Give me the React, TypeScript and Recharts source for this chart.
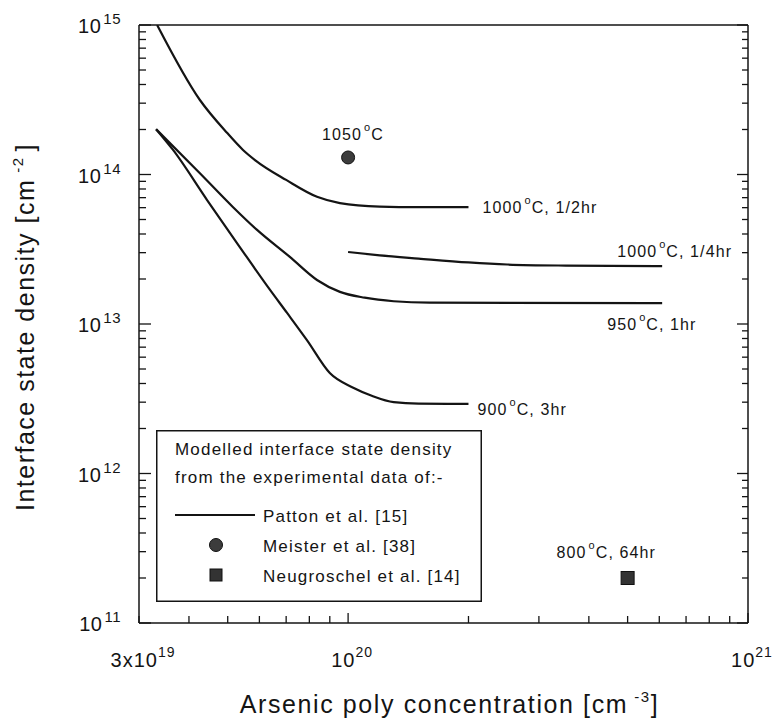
import {
  ComposedChart,
  Line,
  Scatter,
  XAxis,
  YAxis,
  ReferenceDot,
  Legend,
} from "recharts";

const FONT = "'Liberation Sans', Arial, Helvetica, sans-serif";
const INK = "#141414";

// x: arsenic poly concentration [cm^-3], y: interface state density [cm^-2]
const t1000half_x = [3.33e19, 4.26e19, 4.98e19, 5.46e19, 5.85e19, 7.0e19, 8.36e19, 9.54e19, 1.2e20, 1.5e20, 2.0e20];
const t1000half_y = [1e15, 3.15e14, 1.9e14, 1.46e14, 1.25e14, 9.2e13, 7.1e13, 6.44e13, 6.1e13, 6.05e13, 6.05e13];

const t1000quarter_x = [1.0e20, 1.2e20, 1.5e20, 2.0e20, 2.5e20, 3.5e20, 6.1e20];
const t1000quarter_y = [3.03e13, 2.88e13, 2.74e13, 2.58e13, 2.5e13, 2.46e13, 2.44e13];

const t950_x = [3.31e19, 4.26e19, 5.15e19, 5.92e19, 7.15e19, 8.36e19, 9.54e19, 1.1e20, 1.3e20, 1.6e20, 6.1e20];
const t950_y = [2.01e14, 1.02e14, 6.07e13, 4.26e13, 2.81e13, 1.97e13, 1.64e13, 1.5e13, 1.42e13, 1.39e13, 1.38e13];

const t900_x = [3.31e19, 3.65e19, 4.44e19, 5.36e19, 6.38e19, 7.03e19, 7.89e19, 9.0e19, 1.03e20, 1.15e20, 1.3e20, 1.5e20, 2.0e20];
const t900_y = [2.01e14, 1.46e14, 6.75e13, 3.27e13, 1.69e13, 1.19e13, 7.8e12, 4.7e12, 3.75e12, 3.3e12, 3.0e12, 2.93e12, 2.92e12];

const meister_x = [1.0e20];
const meister_y = [1.3e14];
const neugroschel_x = [5.0e20];
const neugroschel_y = [2.0e11];

const xTicks = [3e19, 4e19, 5e19, 6e19, 7e19, 8e19, 9e19, 1e20, 2e20, 3e20, 4e20, 5e20, 6e20, 7e20, 8e20, 9e20, 1e21];
const xLabelTicks = [3e19, 1e20, 1e21];
const xLabelBases = ["3x10", "10", "10"];
const xLabelExps = ["19", "20", "21"];

const yDecades = [1e11, 1e12, 1e13, 1e14];
const yMinorSteps = [1, 2, 3, 4, 5, 6, 7, 8, 9];
const yTicks = [...yDecades.flatMap((d) => yMinorSteps.map((m) => m * d)), 1e15];
const yLabelTicks = [1e11, 1e12, 1e13, 1e14, 1e15];
const yLabelExps = ["11", "12", "13", "14", "15"];

const legendTitle = ["Modelled interface state density", "from the experimental data of:-"];
const legendOrder = ["Patton et al. [15]", "Meister et al. [38]", "Neugroschel et al. [14]"];

const zip = (xs: number[], ys: number[]) => xs.map((x, i) => ({ x, y: ys[i] }));

const s1000half = zip(t1000half_x, t1000half_y);
const s1000quarter = zip(t1000quarter_x, t1000quarter_y);
const s950 = zip(t950_x, t950_y);
const s900 = zip(t900_x, t900_y);
const meister = zip(meister_x, meister_y);
const neugroschel = zip(neugroschel_x, neugroschel_y);

const last = (a: { x: number; y: number }[]) => a[a.length - 1];

const isDecade = (v: number) => Math.abs(Math.log10(v) - Math.round(Math.log10(v))) < 1e-9;
const findIdx = (arr: number[], v: number) => arr.findIndex((t) => Math.abs(t / v - 1) < 1e-9);

function BottomTick(props: any) {
  const { x, y, payload } = props;
  const v = payload.value;
  const len = isDecade(v) ? 10 : 7;
  const li = findIdx(xLabelTicks, v);
  return (
    <g>
      <path d={`M${x},${y}V${y - len}`} stroke={INK} strokeWidth={1.3} fill="none" />
      {li >= 0 && (
        <text x={x + 4} y={y + 44} textAnchor="middle" fontSize={20} fill={INK} fontFamily={FONT} letterSpacing={1}>
          {xLabelBases[li]}
          <tspan dy={-10} fontSize={14}>
            {xLabelExps[li]}
          </tspan>
        </text>
      )}
    </g>
  );
}

function TopTick(props: any) {
  const { x, y, payload } = props;
  const len = isDecade(payload.value) ? 12 : 7;
  return <path d={`M${x},${y}V${y + len}`} stroke={INK} strokeWidth={1.3} fill="none" />;
}

function LeftTick(props: any) {
  const { x, y, payload } = props;
  const v = payload.value;
  const len = isDecade(v) ? 12 : 7;
  const li = findIdx(yLabelTicks, v);
  return (
    <g>
      <path d={`M${x},${y}H${x + len}`} stroke={INK} strokeWidth={1.3} fill="none" />
      {li >= 0 && (
        <text x={x - 18} y={y + 8} textAnchor="end" fontSize={20} fill={INK} fontFamily={FONT} letterSpacing={0.5}>
          10
          <tspan dx={2} dy={-9} fontSize={15}>
            {yLabelExps[li]}
          </tspan>
        </text>
      )}
    </g>
  );
}

function RightTick(props: any) {
  const { x, y, payload } = props;
  const len = isDecade(payload.value) ? 11 : 6;
  return <path d={`M${x},${y}H${x - len}`} stroke={INK} strokeWidth={1.3} fill="none" />;
}

function XTitle(props: any) {
  const vb = props.viewBox;
  return (
    <text x={vb.x + vb.width / 2 + 6} y={vb.y + 90} textAnchor="middle" fontSize={25} fill={INK} fontFamily={FONT} letterSpacing={1.6}>
      Arsenic poly concentration [cm
      <tspan dx={6} dy={-11} fontSize={15}>
        -3
      </tspan>
      <tspan dy={11} fontSize={25}>
        ]
      </tspan>
    </text>
  );
}

function YTitle(props: any) {
  const vb = props.viewBox;
  const cx = 34;
  const cy = vb.y + vb.height / 2 + 3;
  return (
    <text
      x={cx}
      y={cy}
      transform={`rotate(-90, ${cx}, ${cy})`}
      textAnchor="middle"
      fontSize={25}
      fill={INK}
      fontFamily={FONT}
      letterSpacing={1.5}
    >
      Interface state density [cm
      <tspan dx={6} dy={-11} fontSize={15}>
        -2
      </tspan>
      <tspan dx={5} dy={11} fontSize={25}>
        ]
      </tspan>
    </text>
  );
}

function Ann({ x, y, temp, rest }: { x: number; y: number; temp: string; rest: string }) {
  return (
    <text x={x} y={y} fontSize={16} fill={INK} fontFamily={FONT} letterSpacing={1.1}>
      {temp}
      <tspan dx={2} dy={-9} fontSize={11}>
        o
      </tspan>
      <tspan dy={9} fontSize={16}>
        {rest}
      </tspan>
    </text>
  );
}

const annShape = (temp: string, rest: string, dx: number, dy: number) => (p: any) => (
  <Ann x={p.cx + dx} y={p.cy + dy} temp={temp} rest={rest} />
);

function DotShape(p: any) {
  return <circle cx={p.cx} cy={p.cy} r={6.5} fill="#3c3c3c" stroke="#111" strokeWidth={1} />;
}

function SquareShape(p: any) {
  return <rect x={p.cx - 6.5} y={p.cy - 6.5} width={13} height={13} fill="#333" stroke="#111" strokeWidth={1} />;
}

function LegendBox(props: any) {
  const payload = (props.payload || []) as any[];
  const items = legendOrder
    .map((n) => payload.find((p) => p.value === n))
    .filter(Boolean) as any[];
  const tp = { fontSize: 17, fill: INK, fontFamily: FONT, letterSpacing: 1.2 };
  return (
    <svg width={326} height={172} style={{ display: "block" }}>
      <rect x={0.75} y={0.75} width={324.5} height={170.5} fill="#fff" stroke={INK} strokeWidth={1.5} />
      <text x={19} y={25} {...tp}>
        {legendTitle[0]}
      </text>
      <text x={19} y={53} {...tp}>
        {legendTitle[1]}
      </text>
      {items.map((it, i) => {
        const my = 85 + i * 30;
        return (
          <g key={it.value}>
            {it.type === "line" && <line x1={19} x2={99} y1={my} y2={my} stroke={INK} strokeWidth={2.2} />}
            {it.type === "circle" && <circle cx={60} cy={my} r={6.5} fill="#3c3c3c" stroke="#111" />}
            {it.type === "square" && <rect x={54} y={my - 6} width={12} height={12} fill="#333" stroke="#111" />}
            <text x={107} y={my + 7} {...tp}>
              {it.value}
            </text>
          </g>
        );
      })}
    </svg>
  );
}

export default function App() {
  const lineProps = {
    type: "monotone" as const,
    dataKey: "y",
    stroke: INK,
    strokeWidth: 2.2,
    dot: false,
    activeDot: false,
    isAnimationActive: false,
  };
  return (
    <div style={{ position: "absolute", left: 0, top: 0, width: 776, height: 725, background: "#fff" }}>
      <ComposedChart width={776} height={725} margin={{ top: 17, right: 20, bottom: 42, left: 79 }}>
        <XAxis
          type="number"
          dataKey="x"
          scale="log"
          domain={[3e19, 1e21]}
          allowDataOverflow
          ticks={xTicks}
          interval={0}
          tick={BottomTick}
          tickLine={false}
          tickSize={0}
          tickMargin={0}
          height={60}
          axisLine={{ stroke: INK, strokeWidth: 1.5 }}
          label={XTitle}
        />
        <XAxis
          xAxisId="top"
          orientation="top"
          type="number"
          scale="log"
          domain={[3e19, 1e21]}
          allowDataOverflow
          ticks={xTicks}
          interval={0}
          tick={TopTick}
          tickLine={false}
          tickSize={0}
          tickMargin={0}
          height={8}
          axisLine={{ stroke: INK, strokeWidth: 1.5 }}
        />
        <YAxis
          type="number"
          dataKey="y"
          scale="log"
          domain={[1e11, 1e15]}
          allowDataOverflow
          ticks={yTicks}
          interval={0}
          tick={LeftTick}
          tickLine={false}
          tickSize={0}
          tickMargin={0}
          width={60}
          axisLine={{ stroke: INK, strokeWidth: 1.5 }}
          label={YTitle}
        />
        <YAxis
          yAxisId="right"
          orientation="right"
          type="number"
          scale="log"
          domain={[1e11, 1e15]}
          allowDataOverflow
          ticks={yTicks}
          interval={0}
          tick={RightTick}
          tickLine={false}
          tickSize={0}
          tickMargin={0}
          width={8}
          axisLine={{ stroke: INK, strokeWidth: 1.5 }}
        />
        <Line {...lineProps} data={s1000half} name="Patton et al. [15]" legendType="line" />
        <Line {...lineProps} data={s1000quarter} name="1000 C, 1/4hr" legendType="none" />
        <Line {...lineProps} data={s950} name="950 C, 1hr" legendType="none" />
        <Line {...lineProps} data={s900} name="900 C, 3hr" legendType="none" />
        <Scatter data={meister} name="Meister et al. [38]" legendType="circle" fill="#3c3c3c" shape={DotShape} isAnimationActive={false} />
        <Scatter data={neugroschel} name="Neugroschel et al. [14]" legendType="square" fill="#333" shape={SquareShape} isAnimationActive={false} />
        <ReferenceDot x={meister[0].x} y={meister[0].y} r={0} shape={annShape("1050", "C", -26, -17)} />
        <ReferenceDot x={last(s1000half).x} y={last(s1000half).y} r={0} shape={annShape("1000", "C, 1/2hr", 14, 6)} />
        <ReferenceDot x={last(s1000quarter).x} y={last(s1000quarter).y} r={0} shape={annShape("1000", "C, 1/4hr", -45, -9)} />
        <ReferenceDot x={last(s950).x} y={last(s950).y} r={0} shape={annShape("950", "C, 1hr", -55, 27)} />
        <ReferenceDot x={last(s900).x} y={last(s900).y} r={0} shape={annShape("900", "C, 3hr", 9, 11)} />
        <ReferenceDot x={neugroschel[0].x} y={neugroschel[0].y} r={0} shape={annShape("800", "C, 64hr", -71, -20)} />
        <Legend
          content={LegendBox}
          layout="vertical"
          align="center"
          verticalAlign="middle"
          wrapperStyle={{ left: 156, top: 430, width: 326, height: 172 }}
        />
      </ComposedChart>
    </div>
  );
}
